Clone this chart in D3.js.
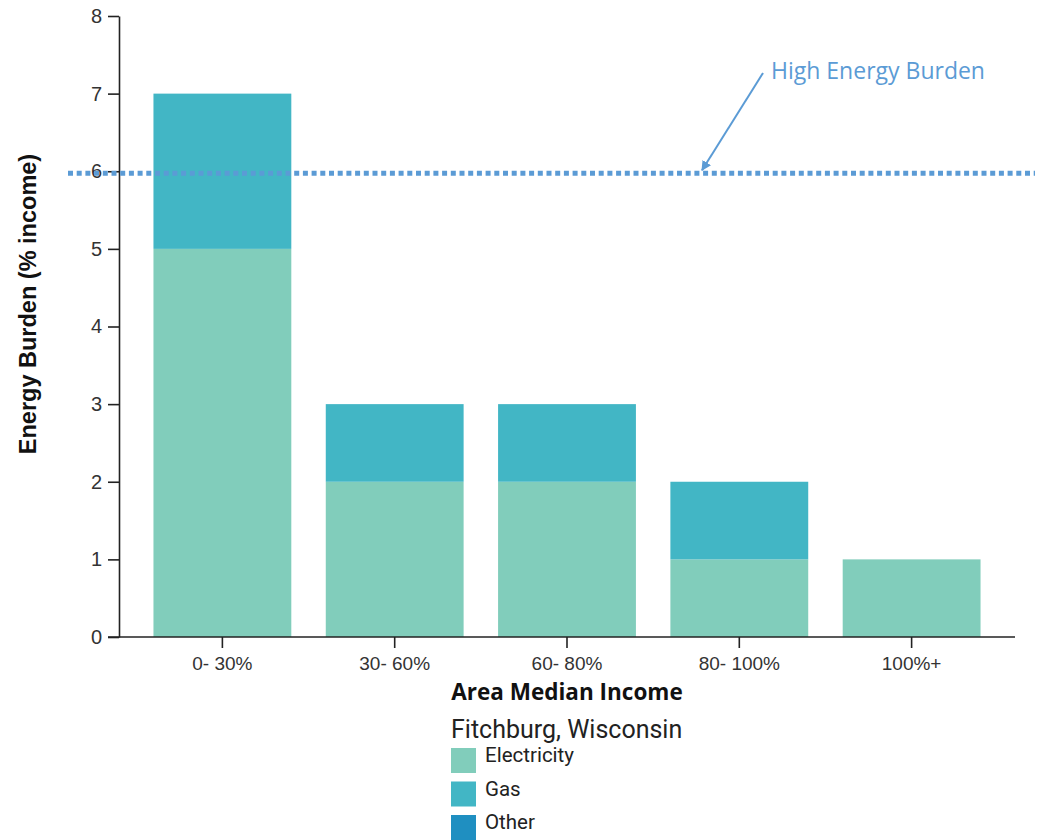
<!DOCTYPE html>
<html>
<head>
<meta charset="utf-8">
<script src="https://cdn.jsdelivr.net/npm/d3@7"></script>
<style>
  html, body { margin: 0; padding: 0; background: #fff; }
  svg { display: block; }
</style>
</head>
<body>
<svg id="chart" width="1040" height="840"></svg>
<script>
// Energy burden by area median income bracket, Fitchburg, Wisconsin
const categories = ["0- 30%", "30- 60%", "60- 80%", "80- 100%", "100%+"];
const electricity = [5, 2, 2, 1, 1];
const gas = [2, 1, 1, 1, 0];
const other = [0, 0, 0, 0, 0];
const seriesNames = ["Electricity", "Gas", "Other"];
const seriesColors = ["#81cdbb", "#42b6c5", "#1f8fc1"];
const yTicks = [0, 1, 2, 3, 4, 5, 6, 7, 8];
const highBurden = 6;

const svg = d3.select("#chart");
const plotLeft = 119, plotRight = 1015, plotTop = 16, plotBottom = 637;

const x = d3.scaleBand().domain(categories).range([plotLeft, plotRight]).padding(0.2);
const y = d3.scaleLinear().domain([0, 8]).range([plotBottom, plotTop]);

const rows = categories.map((c, i) => ({
  cat: c, Electricity: electricity[i], Gas: gas[i], Other: other[i]
}));
const stacked = d3.stack().keys(seriesNames)(rows);
const color = d3.scaleOrdinal().domain(seriesNames).range(seriesColors);

// stacked bars
svg.append("g")
  .selectAll("g")
  .data(stacked)
  .join("g")
  .attr("fill", d => color(d.key))
  .selectAll("rect")
  .data(d => d.filter(p => p[1] - p[0] > 0))
  .join("rect")
  .attr("x", d => x(d.data.cat))
  .attr("y", d => y(d[1]))
  .attr("width", x.bandwidth())
  .attr("height", d => y(d[0]) - y(d[1]));

// y axis
const yAxis = svg.append("g")
  .attr("transform", `translate(${plotLeft},0)`)
  .call(d3.axisLeft(y).tickValues(yTicks).tickFormat(d3.format("d")).tickSize(11).tickSizeOuter(0).tickPadding(6));
yAxis.select(".domain").attr("stroke", "#222").attr("stroke-width", 1.6);
yAxis.selectAll(".tick line").attr("stroke", "#222").attr("stroke-width", 1.6);
yAxis.selectAll(".tick text")
  .attr("font-family", "Liberation Sans, Arial, sans-serif")
  .attr("font-size", 20).attr("fill", "#333");

// x axis
const xAxis = svg.append("g")
  .attr("transform", `translate(0,${plotBottom})`)
  .call(d3.axisBottom(x).tickSize(11).tickSizeOuter(0).tickPadding(9));
xAxis.select(".domain").attr("d", `M${plotLeft - 11},0H${plotRight}`)
  .attr("stroke", "#222").attr("stroke-width", 1.6);
xAxis.selectAll(".tick line").attr("stroke", "#222").attr("stroke-width", 1.6);
xAxis.selectAll(".tick text")
  .attr("font-family", "Liberation Sans, Arial, sans-serif")
  .attr("font-size", 19).attr("fill", "#333");

// axis titles
svg.append("text")
  .attr("transform", "translate(36,304) rotate(-90)")
  .attr("text-anchor", "middle")
  .attr("font-family", "Liberation Sans, Arial, sans-serif")
  .attr("font-weight", "bold").attr("font-size", 23.5).attr("fill", "#111")
  .text("Energy Burden (% income)");

svg.append("text")
  .attr("x", 567).attr("y", 700)
  .attr("text-anchor", "middle")
  .attr("font-family", "Open Sans, sans-serif")
  .attr("font-weight", "bold").attr("font-size", 22.5).attr("fill", "#111")
  .text("Area Median Income");

// high energy burden threshold
svg.append("line")
  .attr("x1", 68).attr("x2", 1035)
  .attr("y1", y(highBurden) + 2).attr("y2", y(highBurden) + 2)
  .attr("stroke", "#5b9bd5").attr("stroke-width", 5)
  .attr("stroke-dasharray", "5 3.7");

svg.append("defs").append("marker")
  .attr("id", "arrow").attr("viewBox", "0 0 10 10")
  .attr("refX", 9).attr("refY", 5)
  .attr("markerWidth", 5).attr("markerHeight", 5)
  .attr("orient", "auto")
  .append("path").attr("d", "M0,0L10,5L0,10z").attr("fill", "#5b9bd5");

svg.append("line")
  .attr("x1", 763).attr("y1", 73)
  .attr("x2", 702).attr("y2", y(highBurden) - 1)
  .attr("stroke", "#5b9bd5").attr("stroke-width", 2)
  .attr("marker-end", "url(#arrow)");

svg.append("text")
  .attr("x", 771).attr("y", 79)
  .attr("font-family", "Open Sans, sans-serif")
  .attr("font-size", 23).attr("fill", "#5b9bd5")
  .text("High Energy Burden");

// legend
const legend = svg.append("g").attr("transform", "translate(451,0)");
legend.append("text")
  .attr("x", 0).attr("y", 738)
  .attr("font-family", "Roboto, sans-serif")
  .attr("font-size", 25).attr("fill", "#222")
  .text("Fitchburg, Wisconsin");

const items = legend.selectAll("g.item")
  .data(seriesNames)
  .join("g").attr("class", "item")
  .attr("transform", (d, i) => `translate(0,${748 + i * 33.5})`);
items.append("rect")
  .attr("width", 25).attr("height", 25)
  .attr("fill", d => color(d));
items.append("text")
  .attr("x", 34).attr("y", 14)
  .attr("font-family", "Roboto, sans-serif")
  .attr("font-size", 20.5).attr("fill", "#222")
  .text(d => d);
</script>
</body>
</html>
